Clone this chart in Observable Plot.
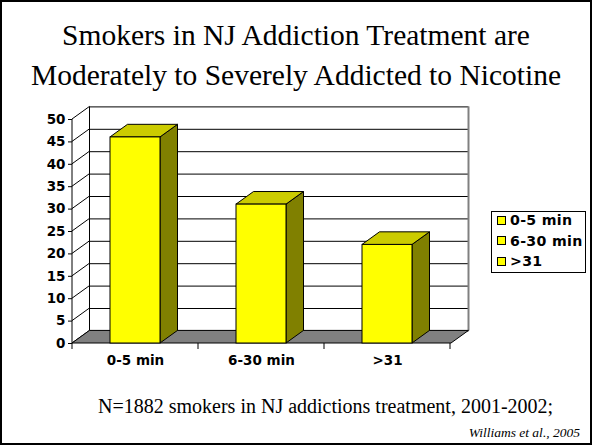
<!DOCTYPE html>
<html>
<head>
<meta charset="utf-8">
<script src="https://cdn.jsdelivr.net/npm/d3@7"></script>
<script src="https://cdn.jsdelivr.net/npm/@observablehq/plot@0.6"></script>
<style>
  html, body { margin: 0; padding: 0; background: #fff; }
  #slide { position: relative; width: 592px; height: 445px; overflow: hidden; background: #fff; }
  #frame { position: absolute; left: 0; top: 0; width: 592px; height: 445px; box-sizing: border-box;
           border: 2px solid #000; pointer-events: none; z-index: 5; }
  .serif { font-family: "Liberation Serif", "Times New Roman", serif; color: #000; }
  #title { position: absolute; left: 0; top: 15px; width: 592px; text-align: center;
           font-size: 29.5px; line-height: 40px; }
  #note { position: absolute; left: 98px; top: 395px; font-size: 20px; line-height: 22px; white-space: nowrap; }
  #cite { position: absolute; right: 12px; top: 425px; font-size: 13.5px; line-height: 15px; font-style: italic; white-space: nowrap; }
  #chart { position: absolute; left: 0; top: 100px; }
  #legend { position: absolute; left: 491px; top: 211px; width: 95px; height: 62px; box-sizing: border-box;
            border: 1px solid #000; background: #fff; z-index: 2;
            font-family: "DejaVu Sans", sans-serif; font-weight: bold; font-size: 14.2px; letter-spacing: 0.3px; }
  .sw { position: absolute; left: 5px; width: 9px; height: 9px; box-sizing: border-box; border: 1px solid #000; }
  .lt { position: absolute; left: 18px; line-height: 16px; white-space: nowrap; }
</style>
</head>
<body>
<div id="slide">
  <div id="title" class="serif">Smokers in NJ Addiction Treatment are<br>Moderately to Severely Addicted to Nicotine</div>
  <div id="chart"></div>
  <div id="legend"></div>
  <div id="note" class="serif">N=1882 smokers in NJ addictions treatment, 2001-2002;</div>
  <div id="cite" class="serif">Williams et al., 2005</div>
  <div id="frame"></div>
</div>
<script>
// Time to first cigarette after waking, percent of smokers
const categories = ["0-5 min", "6-30 min", ">31"];
const percents = [46, 31, 22];
const yTicks = [0, 5, 10, 15, 20, 25, 30, 35, 40, 45, 50];

const rows = categories.map((category, i) => ({category, value: percents[i]}));

// Depth of the pseudo-3D box (pixels) and face colours
const DX = 17.5, DY = -12.6;
const FRONT = "#ffff00", TOP = "#cccc00", SIDE = "#808000";

function bandInfo(x) {
  const bw = x.bandwidth ? x.bandwidth() : 0;
  const step = x.step ? x.step() : bw;
  return {bw, step};
}

// Back wall (white panel behind the gridlines)
function backWall(index, {x, y}, values, dims) {
  const x0 = dims.marginLeft, x1 = dims.width - dims.marginRight;
  const ymax = y.domain()[1];
  const g = d3.create("svg:g");
  g.append("rect")
    .attr("x", x0 + DX).attr("y", y(ymax) + DY)
    .attr("width", x1 - x0).attr("height", y(0) - y(ymax))
    .attr("fill", "#fff");
  return g.node();
}

// Left wall diagonals, wall edges and the grey floor
function sideAndFloor(index, {x, y}, values, dims) {
  const x0 = dims.marginLeft, x1 = dims.width - dims.marginRight;
  const ymax = y.domain()[1];
  const g = d3.create("svg:g").attr("fill", "none").attr("stroke", "#000");
  for (const v of yTicks) {
    g.append("line").attr("x1", x0).attr("y1", y(v)).attr("x2", x0 + DX).attr("y2", y(v) + DY);
  }
  g.append("line").attr("x1", x0 + DX).attr("y1", y(0) + DY).attr("x2", x0 + DX).attr("y2", y(ymax) + DY);
  g.append("line").attr("x1", x0).attr("y1", y(0)).attr("x2", x0).attr("y2", y(ymax));
  g.append("line").attr("x1", x1 + DX).attr("y1", y(0) + DY).attr("x2", x1 + DX).attr("y2", y(ymax) + DY)
    .attr("stroke", "#808080").attr("stroke-width", 2);
  g.append("path")
    .attr("d", `M${x0},${y(0)}L${x1},${y(0)}L${x1 + DX},${y(0) + DY}L${x0 + DX},${y(0) + DY}Z`)
    .attr("fill", "#808080").attr("stroke", "#000");
  return g.node();
}

// Top and side faces of each column
function columnDepth(index, {x, y}) {
  const {bw} = bandInfo(x);
  const g = d3.create("svg:g").attr("stroke", "#000").attr("stroke-linejoin", "round");
  for (const d of rows) {
    const xl = x(d.category), xr = xl + bw, yv = y(d.value), y0 = y(0);
    g.append("path")
      .attr("d", `M${xr},${yv}L${xr + DX},${yv + DY}L${xr + DX},${y0 + DY}L${xr},${y0}Z`)
      .attr("fill", SIDE);
    g.append("path")
      .attr("d", `M${xl},${yv}L${xr},${yv}L${xr + DX},${yv + DY}L${xl + DX},${yv + DY}Z`)
      .attr("fill", TOP);
  }
  return g.node();
}

// Category boundary ticks below the floor's front edge
function categoryTicks(index, {x, y}, values, dims) {
  const x0 = dims.marginLeft;
  const {step} = bandInfo(x);
  const g = d3.create("svg:g").attr("stroke", "#000");
  for (let k = 0; k <= categories.length; k++) {
    const xx = x0 + k * step;
    g.append("line").attr("x1", xx).attr("y1", y(0)).attr("x2", xx).attr("y2", y(0) + 6);
  }
  return g.node();
}

const chart = Plot.plot({
  width: 592,
  height: 275,
  marginLeft: 72,
  marginRight: 141,
  marginTop: 19,
  marginBottom: 32,
  style: {fontFamily: "DejaVu Sans, sans-serif", fontWeight: "bold", fontSize: "13.5px", background: "transparent", overflow: "visible"},
  x: {domain: categories, paddingInner: 0.6, paddingOuter: 0.3, align: 0.5, tickSize: 0, tickPadding: 12, label: null},
  y: {domain: [0, 50], ticks: yTicks, tickSize: 4, tickPadding: 3, label: null},
  marks: [
    backWall,
    Plot.ruleY(yTicks, {dx: DX, dy: DY, stroke: "#000", strokeWidth: 1}),
    sideAndFloor,
    columnDepth,
    Plot.barY(rows, {x: "category", y: "value", fill: FRONT, stroke: "#000", strokeWidth: 1, inset: 0}),
    categoryTicks
  ]
});
document.getElementById("chart").appendChild(chart);

// Legend built from the same categories
const legend = document.getElementById("legend");
const centers = [8, 28.7, 49];
categories.forEach((c, i) => {
  const sw = document.createElement("div");
  sw.className = "sw";
  sw.style.top = (centers[i] - 4.5) + "px";
  sw.style.background = FRONT;
  legend.appendChild(sw);
  const t = document.createElement("div");
  t.className = "lt";
  t.style.top = (centers[i] - 8) + "px";
  t.textContent = c;
  legend.appendChild(t);
});
</script>
</body>
</html>
